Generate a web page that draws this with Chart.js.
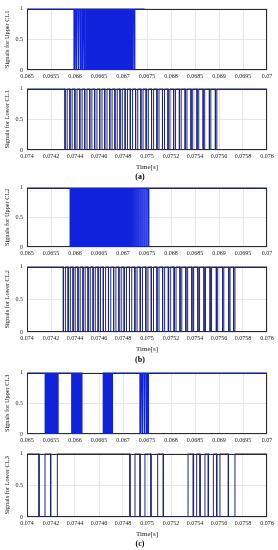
<!DOCTYPE html>
<html>
<head>
<meta charset="utf-8">
<script src="https://cdn.jsdelivr.net/npm/chart.js@4"></script>
<style>
  body { margin: 0; background: #fff; }
  #wrap { position: relative; width: 278px; height: 550px; overflow: hidden; }
  .pane { position: absolute; left: 0; }
  .tag { position: absolute; width: 40px; text-align: center; font: bold 8px "Liberation Serif", serif; color: #000; }
</style>
</head>
<body>
<div id="wrap"></div>
<script>
// x ranges (s) and tick steps
const upperRange = [0.065, 0.07, 0.0005];
const lowerRange = [0.074, 0.076, 0.0002];

// y axis labels
const yTitles = ['Signals for Upper CL1', 'Signals for Lower CL1',
                 'Signals for Upper CL2', 'Signals for Lower CL2',
                 'Signals for Upper CL3', 'Signals for Lower CL3'];
const panelTags = ['(a)', '(b)', '(c)'];

// intervals where the gate signal is 0 (start, end) in seconds
const upperCL1Lows = [
  [0.065980,0.066000],[0.066022,0.066040],[0.066063,0.066083],[0.066105,0.066124],
  [0.066147,0.066167],[0.066188,0.066208],[0.066230,0.066250],[0.066272,0.066293],
  [0.066314,0.066334],[0.066356,0.066376],[0.066398,0.066419],[0.066440,0.066460],
  [0.066482,0.066503],[0.066524,0.066544],[0.066566,0.066586],[0.066608,0.066629],
  [0.066650,0.066670],[0.066692,0.066712],[0.066734,0.066755],[0.066776,0.066796],
  [0.066818,0.066838],[0.066860,0.066880],[0.066902,0.066921],[0.066944,0.066963],
  [0.066986,0.067004],[0.067028,0.067046],[0.067070,0.067087],[0.067112,0.067128],
  [0.067154,0.067170],[0.067196,0.067210],[0.067236,0.067248]
];
const upperCL1End = 0.06745;

const lowerCL1Lows = [
  [0.074317,0.074335],[0.074358,0.074376],[0.074399,0.074417],[0.074440,0.074459],
  [0.074481,0.074500],[0.074523,0.074541],[0.074564,0.074583],[0.074606,0.074625],
  [0.074648,0.074667],[0.074690,0.074709],[0.074733,0.074752],[0.074775,0.074794],
  [0.074818,0.074837],[0.074861,0.074880],[0.074905,0.074923],[0.074949,0.074967],
  [0.074993,0.075011],[0.075038,0.075055],[0.075083,0.075100],[0.075129,0.075146],
  [0.075175,0.075191],[0.075222,0.075238],[0.075270,0.075285],[0.075318,0.075333],
  [0.075367,0.075381],[0.075417,0.075431],[0.075468,0.075481],[0.075520,0.075532],
  [0.075570,0.075582]
];

const upperCL2Lows = [
  [0.065900,0.065918],[0.065942,0.065961],[0.065984,0.066004],[0.066026,0.066047],
  [0.066068,0.066090],[0.066110,0.066132],[0.066152,0.066175],[0.066194,0.066217],
  [0.066236,0.066260],[0.066278,0.066302],[0.066320,0.066344],[0.066362,0.066386],
  [0.066404,0.066428],[0.066446,0.066470],[0.066488,0.066512],[0.066530,0.066554],
  [0.066572,0.066596],[0.066614,0.066638],[0.066656,0.066680],[0.066698,0.066721],
  [0.066740,0.066763],[0.066782,0.066804],[0.066824,0.066846],[0.066866,0.066887],
  [0.066908,0.066928],[0.066950,0.066969],[0.066992,0.067010],[0.067034,0.067051],
  [0.067076,0.067092],[0.067118,0.067133],[0.067160,0.067174],[0.067202,0.067215],
  [0.067244,0.067256],[0.067286,0.067297],[0.067328,0.067338],[0.067370,0.067379],
  [0.067412,0.067420],[0.067454,0.067461],[0.067496,0.067502],[0.067532,0.067538]
];

const lowerCL2Lows = [
  [0.074303,0.074320],[0.074343,0.074361],[0.074384,0.074402],[0.074425,0.074443],
  [0.074467,0.074485],[0.074509,0.074527],[0.074551,0.074569],[0.074593,0.074612],
  [0.074636,0.074655],[0.074679,0.074698],[0.074722,0.074741],[0.074766,0.074785],
  [0.074810,0.074829],[0.074854,0.074873],[0.074899,0.074917],[0.074944,0.074962],
  [0.074990,0.075008],[0.075036,0.075054],[0.075083,0.075100],[0.075130,0.075147],
  [0.075178,0.075194],[0.075226,0.075242],[0.075275,0.075290],[0.075324,0.075339],
  [0.075374,0.075388],[0.075424,0.075438],[0.075475,0.075488],[0.075526,0.075538],
  [0.075578,0.075589],[0.075630,0.075640],[0.075682,0.075692],[0.075722,0.075733]
];

const upperCL3Lows = [
  [0.065380,0.065398],[0.065420,0.065440],[0.065462,0.065482],[0.065504,0.065524],
  [0.065546,0.065566],[0.065588,0.065606],[0.065628,0.065646],
  [0.065933,0.065952],[0.065975,0.065995],[0.066017,0.066038],[0.066059,0.066080],
  [0.066101,0.066122],[0.066143,0.066590],
  [0.066612,0.066632],[0.066654,0.066674],[0.066696,0.066715],[0.066738,0.066755],
  [0.066768,0.066778],
  [0.067354,0.067372],[0.067396,0.067414],[0.067438,0.067456],[0.067480,0.067496],
  [0.067515,0.067528]
];

const lowerCL3Lows = [
  [0.074100,0.074150],[0.074197,0.074253],
  [0.074858,0.074900],[0.074942,0.074983],[0.075033,0.075089],[0.075136,0.075342],
  [0.075386,0.075414],[0.075442,0.075483],[0.075511,0.075553],[0.075581,0.075608],
  [0.075678,0.075733]
];

// turn the low intervals into a square wave
function squareWave(start, end, lows) {
  const pts = [{x: start, y: 1}];
  for (const [a, b] of lows) {
    pts.push({x: a, y: 1}, {x: a, y: 0}, {x: b, y: 0}, {x: b, y: 1});
  }
  pts.push({x: end, y: 1});
  return pts;
}

const panels = [
  {top: 5,   bottom: 70,  lower: false, lows: upperCL1Lows, end: upperCL1End},
  {top: 85,  bottom: 150, lower: true,  lows: lowerCL1Lows},
  {top: 184, bottom: 247, lower: false, lows: upperCL2Lows},
  {top: 263, bottom: 332, lower: true,  lows: lowerCL2Lows},
  {top: 369, bottom: 434, lower: false, lows: upperCL3Lows},
  {top: 450, bottom: 517, lower: true,  lows: lowerCL3Lows}
];
const tagY = [177, 360, 544];

// box round the plot area, drawn under the signal
const frame = {
  id: 'frame',
  beforeDatasetsDraw(chart) {
    const {ctx, chartArea: a} = chart;
    ctx.save();
    ctx.strokeStyle = '#2b2b2b';
    ctx.lineWidth = 1;
    ctx.strokeRect(Math.round(a.left) + 0.5, Math.round(a.top) + 0.5,
                   Math.round(a.right - a.left) - 1, Math.round(a.bottom - a.top) - 1);
    ctx.restore();
  }
};

const wrap = document.getElementById('wrap');
const serif = '"Liberation Serif", "Times New Roman", serif';
const fmt = v => String(parseFloat(v.toFixed(6)));

panels.forEach((p, i) => {
  const range = p.lower ? lowerRange : upperRange;
  const xh = p.lower ? 21 : 12;
  const h = (p.bottom - p.top) + 4 + xh;
  const div = document.createElement('div');
  div.className = 'pane';
  div.style.top = (p.top - 4) + 'px';
  const canvas = document.createElement('canvas');
  canvas.width = 278;
  canvas.height = h;
  div.appendChild(canvas);
  wrap.appendChild(div);

  new Chart(canvas, {
    type: 'line',
    data: {
      datasets: [{
        data: squareWave(range[0], p.end || range[1], p.lows),
        borderColor: p.lower ? '#1b2580' : '#1022dc',
        borderWidth: p.lower ? 1 : 1.3,
        pointRadius: 0,
        tension: 0,
        fill: false
      }]
    },
    options: {
      responsive: false,
      animation: false,
      layout: {padding: {top: 4, left: 0, right: 11, bottom: 0}},
      plugins: {legend: {display: false}, tooltip: {enabled: false}},
      scales: {
        x: {
          type: 'linear',
          min: range[0],
          max: range[1],
          afterFit: s => { s.height = xh; },
          grid: {color: '#e6e6e6', drawTicks: false},
          border: {display: false},
          ticks: {
            stepSize: range[2],
            autoSkip: false,
            maxRotation: 0,
            padding: 3,
            color: '#1a1a1a',
            font: {family: serif, size: 6},
            callback: fmt
          },
          title: {
            display: p.lower,
            text: 'Time[s]',
            color: '#1a1a1a',
            padding: 0,
            font: {family: serif, size: 7}
          }
        },
        y: {
          min: 0,
          max: 1,
          afterFit: s => { s.width = 27; },
          grid: {color: '#e6e6e6', drawTicks: false},
          border: {display: false},
          ticks: {
            stepSize: 0.5,
            padding: 4,
            color: '#1a1a1a',
            font: {family: serif, size: 6},
            callback: fmt
          },
          title: {
            display: true,
            text: yTitles[i],
            color: '#1a1a1a',
            padding: {top: 4, bottom: 0},
            font: {family: serif, size: 6.3}
          }
        }
      }
    },
    plugins: [frame]
  });
});

panelTags.forEach((t, i) => {
  const d = document.createElement('div');
  d.className = 'tag';
  d.textContent = t;
  d.style.left = '120px';
  d.style.top = (tagY[i] - 5) + 'px';
  wrap.appendChild(d);
});
</script>
</body>
</html>
